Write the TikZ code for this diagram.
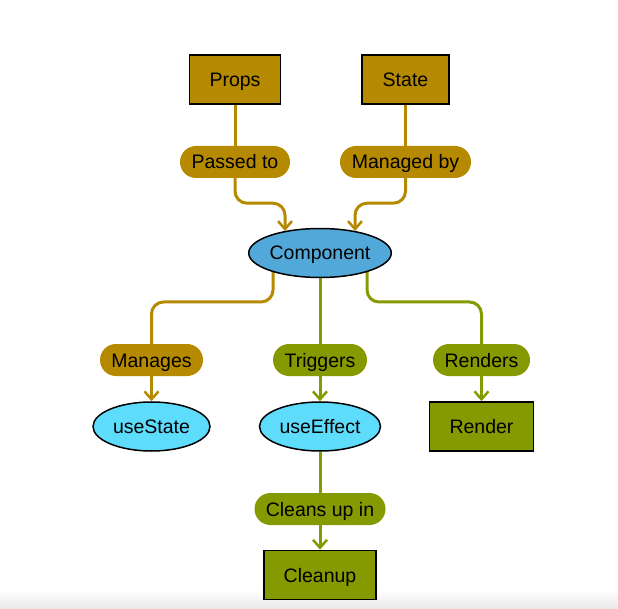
\documentclass[tikz,border=0pt]{standalone}
\usepackage{fontspec}
\setmainfont{Liberation Sans}
\usetikzlibrary{arrows.meta,shapes.geometric,backgrounds}
\definecolor{gold}{HTML}{B58900}
\definecolor{olive}{HTML}{859900}
\definecolor{compblue}{HTML}{52A8D8}
\definecolor{hookcyan}{HTML}{5EDCFC}
\tikzset{
  lbl/.style={font=\fontsize{19.5}{23}\selectfont, text=black, text height=14pt, text depth=0pt},
  base/.style={lbl, inner sep=0pt, minimum height=49pt},
  boxnode/.style={base, draw=black, line width=1.6pt, rectangle},
  ellnode/.style={base, draw=black, line width=1.5pt, ellipse},
  pill/.style={lbl, inner xsep=0pt, inner ysep=0pt,
    minimum height=32pt, rounded corners=16pt, rectangle},
  link/.style={line width=3pt, rounded corners=12pt},
  tip/.style={-{Straight Barb[length=8pt,width=14pt,line width=2.5pt]}},
}
\begin{document}
\begin{tikzpicture}[x=1pt,y=-1pt]
\useasboundingbox (0,0) rectangle (618,609);
\shade[top color=white, bottom color=black!9] (0,590) rectangle (618,609);

% nodes
\node[boxnode, fill=gold, minimum width=91pt] (props) at (235,79.5) {Props};
\node[boxnode, fill=gold, minimum width=87pt] (state) at (405.5,79.5) {State};
\node[pill, fill=gold, minimum width=110pt] (passed) at (235,162) {Passed to};
\node[pill, fill=gold, minimum width=131pt] (managedby) at (405.5,162) {Managed by};
\node[ellnode, fill=compblue, minimum width=142pt] (comp) at (320,253) {Component};
\node[pill, fill=gold, minimum width=103pt] (manages) at (151.5,360) {Manages};
\node[pill, fill=olive, minimum width=94pt] (triggers) at (320,360) {Triggers};
\node[pill, fill=olive, minimum width=97pt] (renders) at (481.5,360) {Renders};
\node[ellnode, fill=hookcyan, minimum width=117pt] (usestate) at (151.5,426.5) {useState};
\node[ellnode, fill=hookcyan, minimum width=121pt] (useeffect) at (320,426.5) {useEffect};
\node[boxnode, fill=olive, minimum width=104pt] (render) at (481.5,426.5) {Render};
\node[pill, fill=olive, minimum width=131pt] (cleans) at (320,509) {Cleans up in};
\node[boxnode, fill=olive, minimum width=112pt] (cleanup) at (320,575) {Cleanup};

\coordinate (pinl) at (285,231);
\coordinate (pinr) at (355,231);
\coordinate (cl) at (273,262);
\coordinate (cr) at (367,262);
\coordinate (ml) at (151.5,302);
\coordinate (mr) at (481.5,302);

\begin{scope}[on background layer]
\draw[link, gold] (props.south) -- (passed.north);
\draw[link, gold, tip] (passed.south) -- ++(0,25) -| (pinl);
\draw[link, gold] (state.south) -- (managedby.north);
\draw[link, gold, tip] (managedby.south) -- ++(0,25) -| (pinr);
\draw[link, gold] (cl) |- (ml) -- (manages.north);
\draw[link, olive] (comp.center) -- (triggers.north);
\draw[link, olive] (cr) |- (mr) -- (renders.north);
\draw[link, gold, tip] (manages.south) -- (usestate.north);
\draw[link, olive, tip] (triggers.south) -- (useeffect.north);
\draw[link, olive, tip] (renders.south) -- (render.north);
\draw[link, olive] (useeffect.south) -- (cleans.north);
\draw[link, olive, tip] (cleans.south) -- (cleanup.north);
\end{scope}
\end{tikzpicture}
\end{document}
